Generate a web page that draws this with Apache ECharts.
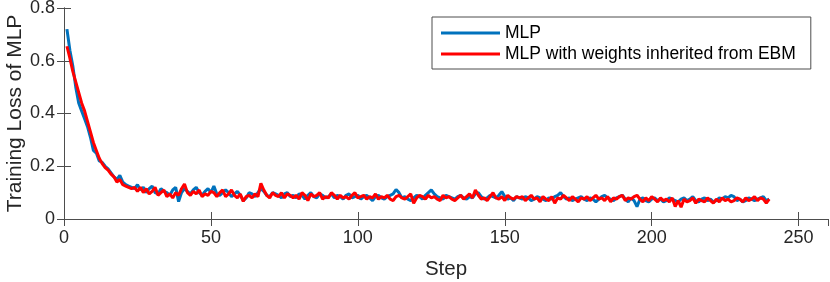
<!DOCTYPE html>
<html>
<head>
<meta charset="utf-8">
<script src="https://cdn.jsdelivr.net/npm/echarts@6/dist/echarts.min.js"></script>
<style>html,body{margin:0;padding:0;background:#fff}#c{width:830px;height:282px}</style>
</head>
<body>
<div id="c"></div>
<script>
var seriesNames = ['MLP', 'MLP with weights inherited from EBM'];
var xTicks = [0, 50, 100, 150, 200, 250];
var yTicks = [0, 0.2, 0.4, 0.6, 0.8];

// Training loss per step (steps 1..240)
var mlpLoss = [
0.72,0.64,0.58,0.50,0.44,0.41,0.38,0.35,0.31,0.26,
0.25,0.22,0.215,0.20,0.19,0.175,0.16,0.15,0.165,0.14,
0.13,0.125,0.12,0.115,0.13,
0.11,0.12,0.10,0.115,0.125,0.10,0.095,0.115,0.105,0.10,
0.09,0.11,0.12,0.066,0.10,0.115,0.105,0.095,0.11,0.12,
0.10,0.09,0.105,0.115,0.10,0.125,0.095,0.09,0.10,0.11,
0.10,0.085,0.095,0.105,0.09,0.07,0.08,0.10,0.095,0.085,
0.10,0.115,0.105,0.09,0.085,0.10,0.095,0.09,0.08,0.095,
0.10,0.085,0.09,0.08,0.095,0.09,0.075,0.09,0.10,0.085,
0.08,0.095,0.09,0.08,0.085,0.095,0.08,0.09,0.085,0.075,
0.09,0.095,0.08,0.085,0.09,0.075,0.085,0.09,0.08,0.07,
0.085,0.09,0.08,0.075,0.085,0.09,0.095,0.112,0.10,0.08,
0.085,0.075,0.07,0.08,0.09,0.085,0.075,0.09,0.10,0.11,
0.095,0.085,0.08,0.075,0.09,0.085,0.08,0.075,0.085,0.09,
0.08,0.075,0.085,0.08,0.095,0.10,0.085,0.075,0.08,0.09,
0.085,0.08,0.09,0.104,0.085,0.075,0.08,0.07,0.085,0.08,
0.075,0.085,0.08,0.07,0.075,0.085,0.08,0.075,0.07,0.08,
0.075,0.085,0.09,0.10,0.085,0.075,0.08,0.07,0.075,0.08,
0.085,0.075,0.07,0.08,0.075,0.065,0.075,0.085,0.09,0.08,
0.075,0.07,0.08,0.085,0.09,0.075,0.065,0.08,0.07,0.047,
0.075,0.08,0.07,0.065,0.075,0.08,0.07,0.075,0.065,0.07,
0.08,0.075,0.07,0.065,0.075,0.08,0.07,0.075,0.085,0.07,
0.065,0.075,0.08,0.07,0.075,0.065,0.07,0.08,0.075,0.085,
0.08,0.09,0.085,0.07,0.075,0.065,0.07,0.08,0.075,0.07,
0.075,0.08,0.085,0.07,0.075
];
var ebmLoss = [
0.655,0.61,0.56,0.52,0.48,0.44,0.41,0.37,0.33,0.29,
0.26,0.23,0.21,0.195,0.185,0.17,0.16,0.14,0.15,0.13,
0.125,0.12,0.115,0.12,0.105,
0.12,0.10,0.115,0.095,0.105,0.12,0.09,0.10,0.11,0.085,
0.095,0.08,0.10,0.09,0.115,0.133,0.10,0.09,0.105,0.095,
0.11,0.085,0.095,0.09,0.105,0.10,0.085,0.10,0.11,0.085,
0.095,0.11,0.09,0.08,0.095,0.067,0.085,0.09,0.08,0.095,
0.085,0.135,0.11,0.09,0.08,0.10,0.09,0.085,0.10,0.08,
0.095,0.09,0.08,0.09,0.075,0.10,0.09,0.07,0.095,0.085,
0.09,0.10,0.075,0.085,0.08,0.10,0.09,0.075,0.09,0.08,
0.085,0.075,0.09,0.10,0.08,0.085,0.09,0.075,0.085,0.08,
0.095,0.075,0.085,0.08,0.09,0.075,0.07,0.085,0.09,0.08,
0.075,0.085,0.095,0.06,0.08,0.09,0.085,0.075,0.09,0.08,
0.085,0.075,0.07,0.09,0.08,0.085,0.075,0.07,0.08,0.09,
0.075,0.085,0.095,0.08,0.11,0.09,0.075,0.08,0.07,0.085,
0.10,0.08,0.075,0.085,0.07,0.09,0.08,0.075,0.085,0.08,
0.085,0.07,0.08,0.09,0.075,0.08,0.065,0.085,0.075,0.07,
0.085,0.06,0.08,0.075,0.09,0.08,0.07,0.085,0.075,0.065,
0.08,0.075,0.085,0.07,0.08,0.09,0.075,0.08,0.07,0.085,
0.065,0.08,0.075,0.085,0.09,0.07,0.08,0.075,0.085,0.09,
0.075,0.065,0.08,0.07,0.085,0.075,0.065,0.08,0.07,0.075,
0.065,0.08,0.047,0.07,0.045,0.075,0.065,0.07,0.08,0.06,
0.075,0.07,0.065,0.08,0.07,0.06,0.075,0.065,0.08,0.07,
0.075,0.065,0.07,0.08,0.075,0.065,0.08,0.07,0.075,0.085,
0.07,0.08,0.075,0.06,0.075
];

function toPairs(arr) { return arr.map(function (v, i) { return [i + 1, v]; }); }

var FONT = '"Liberation Sans", Arial, Helvetica, sans-serif';
var TXT = '#262626';
var AX = '#4d4d4d';

var chart = echarts.init(document.getElementById('c'), null, { renderer: 'canvas' });
function xLabel(v) { return xTicks.indexOf(v) >= 0 ? String(v) : ''; }
function yLabel(v) {
  for (var i = 0; i < yTicks.length; i++) if (Math.abs(yTicks[i] - v) < 1e-9) return String(yTicks[i]);
  return '';
}
var common = {
  type: 'value',
  axisLine: { show: true, lineStyle: { color: AX, width: 1 } },
  axisTick: { show: true, inside: true, length: 7, lineStyle: { color: AX, width: 1 } },
  splitLine: { show: false }
};
chart.setOption({
  animation: false,
  backgroundColor: '#fff',
  grid: { left: 64, right: 2, top: 8, bottom: 63, containLabel: false, outerBoundsMode: 'none' },
  legend: {
    orient: 'vertical',
    left: 432, top: 17,
    padding: [6, 15, 5, 9],
    backgroundColor: '#fff',
    borderColor: AX, borderWidth: 1, borderRadius: 0,
    itemWidth: 59, itemHeight: 3, itemGap: 1,
    icon: 'rect',
    textStyle: { fontFamily: FONT, fontSize: 17.5, color: '#000', lineHeight: 20 },
    data: seriesNames
  },
  xAxis: [
    Object.assign({}, common, {
      min: 0, max: 260, interval: 50, position: 'bottom',
      name: 'Step', nameLocation: 'middle', nameGap: 40, nameMoveOverlap: false,
      nameTextStyle: { fontFamily: FONT, fontSize: 20.5, color: TXT },
      axisLabel: { fontFamily: FONT, fontSize: 18, color: TXT, margin: 10, formatter: xLabel, showMaxLabel: false }
    }),
    Object.assign({}, common, {
      min: 0, max: 260, interval: 50, position: 'top',
      axisLabel: { show: false }
    })
  ],
  yAxis: [
    Object.assign({}, common, {
      min: 0, max: 0.8, interval: 0.2, position: 'left',
      name: 'Training Loss of MLP', nameLocation: 'middle', nameGap: 38, nameMoveOverlap: false,
      nameTextStyle: { fontFamily: FONT, fontSize: 21, color: TXT },
      axisLabel: { fontFamily: FONT, fontSize: 18, color: TXT, margin: 9, formatter: yLabel }
    }),
    Object.assign({}, common, {
      min: 0, max: 0.8, interval: 0.2, position: 'right',
      axisLabel: { show: false }
    })
  ],
  series: [
    {
      name: seriesNames[0], type: 'line', data: toPairs(mlpLoss),
      symbol: 'none', xAxisIndex: 0, yAxisIndex: 0,
      lineStyle: { color: '#0072BD', width: 3 }, itemStyle: { color: '#0072BD' }, z: 2
    },
    {
      name: seriesNames[1], type: 'line', data: toPairs(ebmLoss),
      symbol: 'none', xAxisIndex: 0, yAxisIndex: 0,
      lineStyle: { color: '#FF0000', width: 3 }, itemStyle: { color: '#FF0000' }, z: 3
    }
  ]
});
</script>
</body>
</html>
